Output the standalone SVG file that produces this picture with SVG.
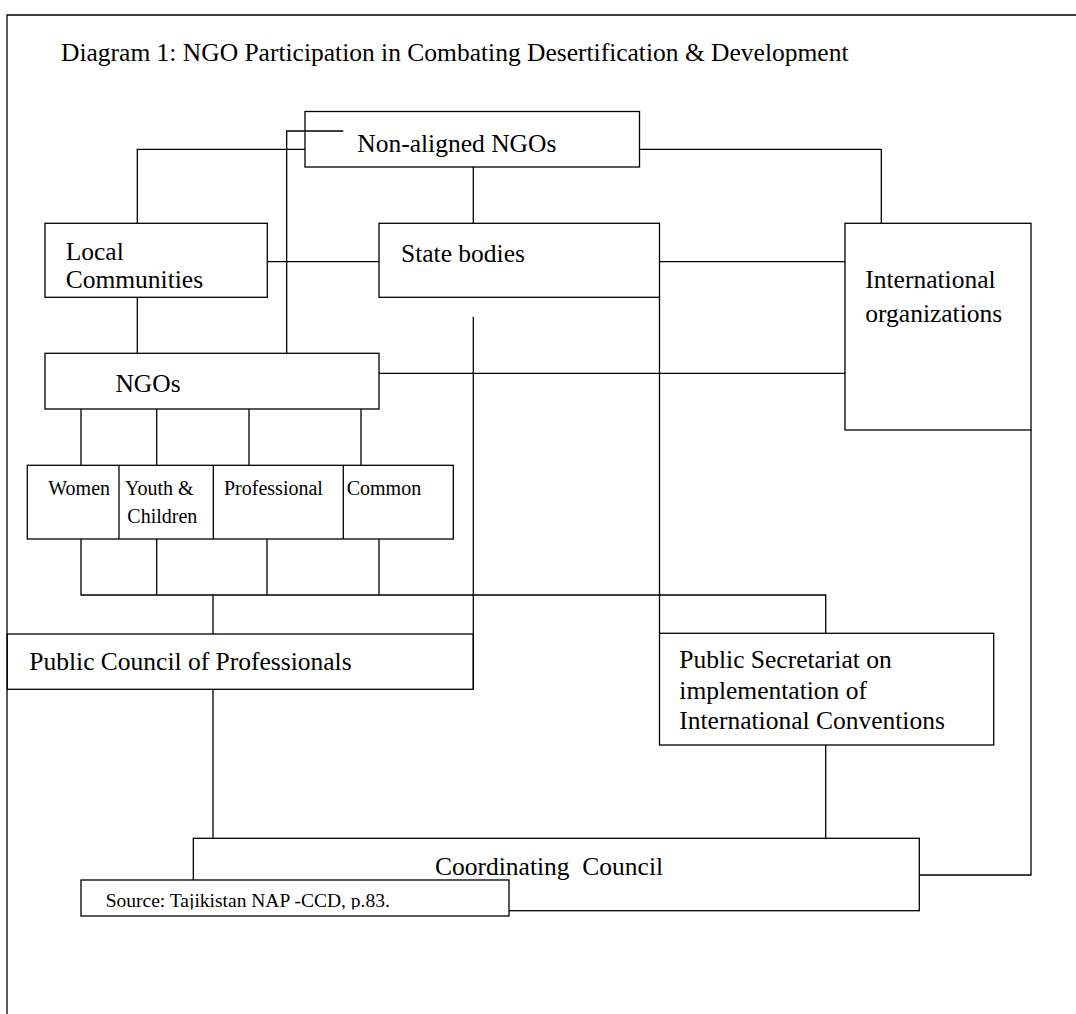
<svg xmlns="http://www.w3.org/2000/svg" width="1076" height="1014" viewBox="0 0 1076 1014">
<style>
.box{fill:#fff;stroke:#000;stroke-width:1.3}
.ln{fill:none;stroke:#000;stroke-width:1.3}
.t{font-family:"Liberation Serif","Times New Roman",serif;font-size:25.5px;fill:#000}
.s{font-family:"Liberation Serif","Times New Roman",serif;font-size:20px;fill:#000}
</style>
<defs>
<clipPath id="srcclip"><rect x="81" y="880" width="428" height="29.5"/></clipPath>
</defs>
<rect width="1076" height="1014" fill="#fff"/>
<path class="ln" d="M7,1014 V15 H1076"/>
<text class="t" x="61" y="61">Diagram 1: NGO Participation in Combating Desertification &amp; Development</text>

<g id="nonaligned"><rect class="box" x="305" y="111.5" width="334.5" height="55.5"/><text class="t" x="357.3" y="152.3">Non-aligned NGOs</text></g>
<g id="local"><rect class="box" x="45" y="223.3" width="222.3" height="74"/><text class="t" x="65.7" y="260">Local</text><text class="t" x="65.7" y="287.7">Communities</text></g>
<g id="state"><rect class="box" x="379" y="223.3" width="280.5" height="74"/><text class="t" x="401" y="262">State bodies</text></g>
<g id="international"><rect class="box" x="845" y="223.3" width="186" height="206.7"/><text class="t" x="865.3" y="287.5">International</text><text class="t" x="865.3" y="321.5">organizations</text></g>
<g id="ngos"><rect class="box" x="45" y="353.3" width="334" height="55.7"/><text class="t" x="115.4" y="391.7">NGOs</text></g>
<g id="categories"><rect class="box" x="27.3" y="465.3" width="426" height="73.7"/>
<path class="ln" d="M119,465.3 V539 M213.3,465.3 V539 M343.3,465.3 V539"/>
<text class="s" x="48.3" y="495">Women</text><text class="s" x="125" y="495">Youth &amp;</text><text class="s" x="127.3" y="523.3">Children</text><text class="s" x="224" y="495">Professional</text><text class="s" x="346.7" y="495">Common</text></g>
<g id="publiccouncil"><rect class="box" x="7.3" y="634" width="466" height="55.3"/><text class="t" x="29.3" y="670">Public Council of Professionals</text></g>
<g id="secretariat"><rect class="box" x="659.5" y="633.3" width="334.2" height="111.7"/><text class="t" x="679.3" y="668.3">Public Secretariat on</text><text class="t" x="679.3" y="698.8">implementation of</text><text class="t" x="679.3" y="729.3">International Conventions</text></g>
<g id="coordinating"><rect class="box" x="193.3" y="838.3" width="726" height="72.4"/><text class="t" x="435" y="875">Coordinating&#160; Council</text></g>
<g id="source"><rect class="box" x="81" y="880" width="428" height="36"/><text class="s" x="105.7" y="907.3" style="font-size:19.5px" clip-path="url(#srcclip)">Source: Tajikistan NAP -CCD, p.83.</text></g>

<g id="connectors" class="ln">
<path class="ln" d="M305,149.3 H137.3 V223.3"/>
<path class="ln" d="M343.3,131 H286.7 V353.3"/>
<path class="ln" d="M473.3,166.7 V223.3"/>
<path class="ln" d="M639.5,149.3 H881.3 V223.3"/>
<path class="ln" d="M267.3,261.7 H379"/>
<path class="ln" d="M659.5,261.7 H845"/>
<path class="ln" d="M137.3,297.3 V353.3"/>
<path class="ln" d="M379,373.3 H845"/>
<path class="ln" d="M81,409 V465.3 M156.7,409 V465.3 M249,409 V465.3 M361,409 V465.3"/>
<path class="ln" d="M81,539 V595 H825.7 V633.3 M156.7,539 V595 M267,539 V595 M379,539 V595"/>
<path class="ln" d="M213,595 V634"/>
<path class="ln" d="M473.3,316.7 V689.3"/>
<path class="ln" d="M659.5,297.3 V633.3"/>
<path class="ln" d="M213,689.3 V838.3"/>
<path class="ln" d="M825.7,745 V838.3"/>
<path class="ln" d="M1031,430 V875 H919.3"/>
</g>
</svg>
